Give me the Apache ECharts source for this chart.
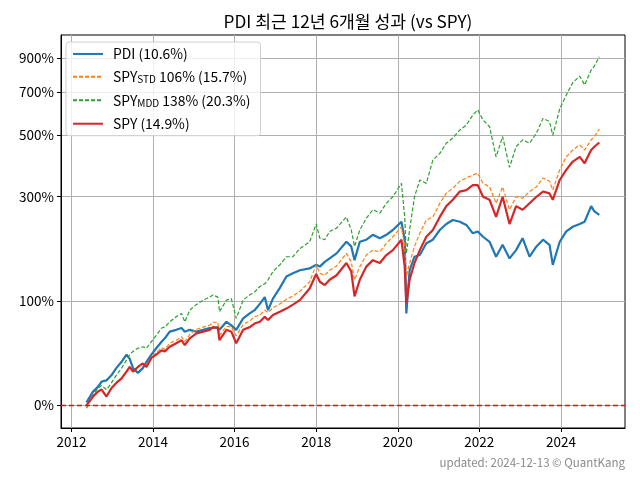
<!DOCTYPE html>
<html><head><meta charset="utf-8">
<script src="https://cdn.jsdelivr.net/npm/echarts@6/dist/echarts.min.js"></script>
<style>html,body{margin:0;padding:0;background:#fff}#c{width:640px;height:480px}</style>
</head><body><div id="c"></div>
<script>
// sample times (decimal years)
const years = [2012.37,2012.53,2012.65,2012.74,2012.86,2012.98,2013.10,2013.23,2013.35,2013.43,
 2013.51,2013.63,2013.75,2013.84,2013.96,2014.08,2014.21,2014.29,2014.41,2014.57,
 2014.70,2014.78,2014.90,2015.06,2015.23,2015.39,2015.47,2015.59,2015.63,2015.80,
 2015.92,2016.04,2016.21,2016.37,2016.49,2016.62,2016.74,2016.82,2016.94,2017.11,
 2017.27,2017.43,2017.60,2017.84,2018.00,2018.09,2018.21,2018.33,2018.50,2018.74,
 2018.86,2018.94,2019.07,2019.23,2019.39,2019.56,2019.72,2019.88,2020.09,2020.17,
 2020.21,2020.29,2020.41,2020.54,2020.70,2020.86,2021.03,2021.19,2021.35,2021.52,
 2021.68,2021.84,2021.96,2022.09,2022.25,2022.41,2022.57,2022.74,2022.90,2023.06,
 2023.23,2023.40,2023.56,2023.72,2023.80,2023.97,2024.13,2024.29,2024.46,2024.58,
 2024.74,2024.82,2024.94];
// cumulative returns in percent
const pdi = [2,9.5,13,17,18,22,28,33.5,40,36, 28,24,28,33.5,40,46,52.5,56,63,65,
 67,63,65,63,65,67,67,68,65,74, 70,65,78,84,88,96,105,88,103,118,
 135,140,145,148,154,151,159,165,174,196, 187,162,196,200,210,203,210,220,238,200,
 84,145,168,171,193,200,220,233,242,238, 231,213,217,206,196,168,190,165,180,203,
 168,187,200,190,154,196,217,227,233,238, 275,262,254];
const spyStd = [0,6,9.5,11,6,12,16,19.5,25,29, 25,29,32,31,38,42,46.5,45,51,54,
 57.6,52.5,60,65.6,68,70,73.5,73.5,59,69, 68,58.6,71,75,80,82,88,85,91,96,
 102,106.5,113,127,154,140,137,145,152,174, 159,130,151,171,180,177,193,206,227,187,
 135,157,187,213,242,249,282,309,322,342, 352,361,366,336,326,282,326,266,299,295,
 313,326,352,342,317,377,420,444,463,444, 482,495,525];
const spyMdd = [-2,7,12,14,11,16,22,28,35,40, 43,46,47.5,46,52.5,59,67,68,74,80,
 84,74,88,95,101,105,108,105,86,101, 103,78,101,108,112,120,124,130,143,154,
 168,168,183,196,233,203,200,217,224,249, 220,187,220,246,266,258,282,299,336,249,
 174,220,299,346,336,409,432,469,489,521, 542,586,610,564,535,420,495,385,456,482,
 469,509,571,557,500,615,684,751,788,738, 825,850,910];
const spy = [0,6,9.5,11,6,12,16,19.5,25,29, 25,29,32,29,37,40,44,43,47.5,51,
 54,49,56,61,63,65,68,67,54,65, 63,51,65,68,72,74,80,76,82,86,
 90,95,101,117,139,127,122,130,137,157, 143,106,130,151,162,157,171,180,200,151,
 97,130,157,180,206,220,249,275,291,313, 317,331,331,299,291,249,299,233,275,266,
 282,299,313,308,291,346,377,404,420,398, 444,456,472];
const yTickPct = [0,100,300,500,700,900];
const xTickYears = [2012,2014,2016,2018,2020,2022,2024];
const baseline = [0];
const names = ['PDI (10.6%)','SPY_STD 106% (15.7%)','SPY_MDD 138% (20.3%)','SPY (14.9%)'];

function toLog(p){return Math.log10(1+p/100);}
const mk = arr => arr.map((v,i)=>[years[i],toLog(v)]);

const font = "'Noto Sans CJK KR','DejaVu Sans',sans-serif";
const chart = echarts.init(document.getElementById('c'),null,{renderer:'canvas'});
chart.setOption({
  animation:false,
  textStyle:{fontFamily:font},
  title:{text:'PDI 최근 12년 6개월 성과 (vs SPY)',left:343,top:8,textAlign:'center',
    textStyle:{fontFamily:font,fontSize:17.2,fontWeight:'normal',color:'#000'}},
  grid:{left:61,right:15,top:35,bottom:52,show:true,borderColor:'#000',borderWidth:1,containLabel:false},
  xAxis:{type:'value',min:2011.745,max:2025.57,
    axisLine:{show:true,onZero:false,lineStyle:{color:'#000'}},
    axisTick:{show:true,length:4,lineStyle:{color:'#000'},customValues:xTickYears},
    axisLabel:{customValues:xTickYears,color:'#000',fontSize:13.5,margin:7,fontFamily:font,formatter:v=>String(Math.round(v))},
    splitLine:{show:true,lineStyle:{color:'#b0b0b0',width:1}}},
  yAxis:{type:'value',min:-0.0654,max:1.0671,
    axisLine:{show:true,onZero:false,lineStyle:{color:'#000'}},
    axisTick:{show:true,length:4,lineStyle:{color:'#000'},customValues:yTickPct.map(toLog)},
    axisLabel:{customValues:yTickPct.map(toLog),color:'#000',fontSize:13.5,margin:7,fontFamily:font,
      formatter:v=>Math.round((Math.pow(10,v)-1)*100)+'%'},
    splitLine:{show:true,lineStyle:{color:'#b0b0b0',width:1}}},
  legend:{orient:'vertical',left:66,top:42,padding:[5,10,5,6],itemGap:9,itemWidth:30,itemHeight:14,
    backgroundColor:'rgba(255,255,255,0.8)',borderColor:'#d0d0d0',borderWidth:1,borderRadius:3,
    itemStyle:{opacity:0},
    data:names,
    formatter:n=>{
      if(n.indexOf('SPY_')===0){const sub=n.substr(4,3);return '{p|}{a|SPY}{s|'+sub+'}{a|'+n.substr(7)+'}';}
      return '{p|}{a|'+n+'}';},
    textStyle:{fontFamily:font,fontSize:13.9,color:'#000',
      rich:{p:{width:5},a:{fontFamily:font,fontSize:13.9,color:'#000'},s:{fontFamily:font,fontSize:10,color:'#000',padding:[5,0,0,0]}}}},
  series:[
    {name:names[0],type:'line',data:mk(pdi),symbol:'none',lineStyle:{color:'#1f77b4',width:2.2},itemStyle:{color:'#1f77b4'},z:2},
    {name:names[1],type:'line',data:mk(spyStd),symbol:'none',lineStyle:{color:'#ff7f0e',width:1.2,type:[4,2]},itemStyle:{color:'#ff7f0e'},z:3},
    {name:names[2],type:'line',data:mk(spyMdd),symbol:'none',lineStyle:{color:'#2ca02c',width:1.2,type:[4,2]},itemStyle:{color:'#2ca02c'},z:4},
    {name:names[3],type:'line',data:mk(spy),symbol:'none',lineStyle:{color:'#d62728',width:2.2},itemStyle:{color:'#d62728'},z:5},
    {name:'baseline',type:'line',data:[],z:6,silent:true,
      markLine:{silent:true,symbol:['none','none'],label:{show:false},
        lineStyle:{color:'#ff0000',type:[5,3],width:1.3,opacity:1},
        emphasis:{disabled:true},
        data:baseline.map(v=>({yAxis:toLog(v)}))}}
  ],
  graphic:[{type:'text',right:15,top:457,style:{text:'updated: 2024-12-13 © QuantKang',fontFamily:font,fontSize:11.5,fill:'#8a8a8a'}}]
});
</script></body></html>
